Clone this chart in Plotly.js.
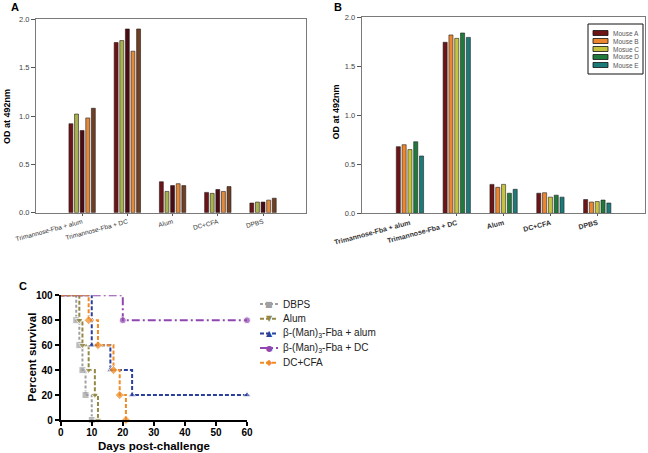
<!DOCTYPE html>
<html><head><meta charset="utf-8">
<script src="https://cdn.plot.ly/plotly-3.0.1.min.js"></script>
<style>html,body{margin:0;padding:0;background:#fff}</style>
</head><body><div id="chart" style="width:648px;height:453px"></div>
<script>
// ---------- DATA ----------
const groups = ['Trimannose-Fba + alum','Trimannose-Fba + DC','Alum','DC+CFA','DPBS'];
// Panel A (5 mice, unnamed)
const a1 = [0.92, 1.76, 0.32, 0.21, 0.10];
const a2 = [1.02, 1.78, 0.22, 0.20, 0.11];
const a3 = [0.85, 1.90, 0.28, 0.24, 0.11];
const a4 = [0.98, 1.67, 0.30, 0.22, 0.13];
const a5 = [1.08, 1.90, 0.28, 0.27, 0.15];
// Panel B
const mouseNames = ['Mouse A','Mouse B','Mosue C','Mouse D','Mouse E'];
const bA = [0.68, 1.745, 0.295, 0.205, 0.14];
const bB = [0.70, 1.82, 0.265, 0.21, 0.115];
const bC = [0.65, 1.785, 0.295, 0.165, 0.12];
const bD = [0.73, 1.84, 0.205, 0.185, 0.135];
const bE = [0.585, 1.795, 0.245, 0.165, 0.105];
// Panel C survival
const survNames = ['DBPS','Alum','β-(Man)<sub>3</sub>-Fba + alum','β-(Man)<sub>3</sub>-Fba + DC','DC+CFA'];
const dbpsDays = [0,5,6,7,8,10];     const dbpsPct = [100,80,60,40,20,0];
const alumDays = [0,6,7,9,11,12];    const alumPct = [100,80,60,40,20,0];
const manAlumDays = [0,10,16,23,60]; const manAlumPct = [100,60,40,20,20];
const manDcDays = [0,20,60];         const manDcPct = [100,80,80];
const dcCfaDays = [0,9,12,17,19,21]; const dcCfaPct = [100,80,60,40,20,0];

// ---------- STYLE ----------
const W = 648, H = 453;
const X = p => p / W, Y = p => 1 - p / H;
const FONT = 'Arial, "Liberation Sans", sans-serif';
const colA = ['#6b1518','#a8b24e','#4a0c14','#e08a3c','#6e4024'];
const colB = ['#6e1416','#ee8630','#c6c43e','#1f7a3c','#1c7a78'];
const survCol = ['#a0a0a0','#938845','#2b3f9c','#9048b0','#f08a24'];
const survSym = ['square','triangle-down','triangle-up','circle','diamond'];
const survDash = ['3px,2px','4px,2px','4px,2px','8px,3px,2px,3px','4px,2px'];
const survGlyph = ['■','▼','▲','●','◆'];

const traces = [];
[a1,a2,a3,a4,a5].forEach((v,i) => traces.push({
  type:'bar', x: groups, y: v, xaxis:'x', yaxis:'y', showlegend:false,
  marker:{color: colA[i], line:{color:'#2a1a1a', width:0.6}}
}));
[bA,bB,bC,bD,bE].forEach((v,i) => traces.push({
  type:'bar', x: groups, y: v, xaxis:'x2', yaxis:'y2', name: mouseNames[i], showlegend:false,
  marker:{color: colB[i], line:{color:'#222', width:0.6}}
}));
const surv = [[dbpsDays,dbpsPct],[alumDays,alumPct],[manAlumDays,manAlumPct],[manDcDays,manDcPct],[dcCfaDays,dcCfaPct]];
surv.forEach((s,i) => traces.push({
  type:'scatter', mode:'lines+markers', x: s[0], y: s[1], xaxis:'x3', yaxis:'y3',
  name: survNames[i], showlegend:false, cliponaxis:false,
  line:{shape:'hv', color: survCol[i], width:2, dash: survDash[i]},
  marker:{symbol: survSym[i], color: survCol[i], size: s[0].map((d,j)=> j===0 ? 0 : 7)}
}));

const barAxisX = (dom, rng, bold, fs) => ({
  domain: dom, range: rng, type:'category', showline:true, mirror:true, linecolor:'#7a7a7a', linewidth:1,
  ticks:'outside', ticklen:2, tickcolor:'#555', tickangle:-15, showgrid:false, zeroline:false,
  tickfont:{family:FONT, size:fs, color:'#333', weight: bold ? 'bold' : 'normal'}
});
const barAxisY = (dom, anchor) => ({
  domain: dom, range:[0,2], anchor: anchor, showline:true, mirror:true, linecolor:'#7a7a7a', linewidth:1,
  ticks:'outside', ticklen:4, tickcolor:'#555', dtick:0.5, tickformat:'.1f', showgrid:false, zeroline:false,
  tickfont:{family:FONT, size:7.5, color:'#444'}
});

const shapes = [], annotations = [];
// Legend B
shapes.push({type:'rect', xref:'paper', yref:'paper', x0:X(588), x1:X(643), y0:Y(24), y1:Y(74), line:{color:'#111', width:1}, fillcolor:'rgba(0,0,0,0)'});
mouseNames.forEach((n,i) => {
  const yc = 33 + i*8;
  shapes.push({type:'rect', xref:'paper', yref:'paper', x0:X(593), x1:X(608), y0:Y(yc+2.5), y1:Y(yc-2.5), line:{color:'#111', width:0.8}, fillcolor: colB[i]});
  annotations.push({xref:'paper', yref:'paper', x:X(611), y:Y(yc), xanchor:'left', yanchor:'middle', showarrow:false, text:n, font:{family:FONT, size:6.5, color:'#555'}});
});
// Legend C
survNames.forEach((n,i) => {
  const yc = 304 + i*14.7;
  shapes.push({type:'line', xref:'paper', yref:'paper', x0:X(260), x1:X(278), y0:Y(yc), y1:Y(yc), line:{color:survCol[i], width:2, dash:survDash[i]}});
  annotations.push({xref:'paper', yref:'paper', x:X(269), y:Y(yc), xanchor:'center', yanchor:'middle', showarrow:false, text:survGlyph[i], font:{family:'DejaVu Sans', size:8, color:survCol[i]}});
  annotations.push({xref:'paper', yref:'paper', x:X(281), y:Y(yc), xanchor:'left', yanchor:'middle', showarrow:false, text:n, font:{family:FONT, size:10, color:'#222'}});
});
// Panel letters & axis titles
const ann = (x,y,text,size,extra) => annotations.push(Object.assign({xref:'paper', yref:'paper', x:X(x), y:Y(y), xanchor:'center', yanchor:'middle', showarrow:false, text:text, font:{family:FONT, size:size, color:'#000', weight:'bold'}}, extra||{}));
ann(15, 7, 'A', 11);
ann(338, 7, 'B', 11);
ann(23, 286, 'C', 11);
ann(7, 117, 'OD at 492nm', 9, {textangle:-90});
ann(335.5, 112, 'OD at 492nm', 9, {textangle:-90});
ann(31.5, 357, 'Percent survival', 11.5, {textangle:-90});
ann(154, 446, 'Days post-challenge', 11.5);

const layout = {
  width:W, height:H, margin:{l:0,r:0,t:0,b:0}, paper_bgcolor:'#fff', plot_bgcolor:'rgba(0,0,0,0)',
  showlegend:false, barmode:'group', bargap:0.38, bargroupgap:0.3,
  font:{family:FONT},
  xaxis: barAxisX([X(36), X(306)], [-1.02, 4.95], false, 6.5),
  yaxis: barAxisY([Y(212.7), Y(19.3)], 'x'),
  xaxis2: Object.assign(barAxisX([X(361.7), X(645)], [-1.03, 5.02], true, 7), {anchor:'y2'}),
  yaxis2: barAxisY([Y(213.3), Y(17.3)], 'x2'),
  xaxis3: {domain:[X(60.7), X(247)], range:[0,60], anchor:'y3', showline:true, linecolor:'#000', linewidth:2,
    ticks:'outside', ticklen:4, tickwidth:2, tickcolor:'#000', dtick:10, showgrid:false, zeroline:false,
    ticklabelstandoff:-2,
    tickfont:{family:FONT, size:10, color:'#000', weight:'bold'}},
  yaxis3: {domain:[Y(420), Y(295.3)], range:[0,100], anchor:'x3', showline:true, linecolor:'#000', linewidth:2,
    ticks:'outside', ticklen:4, tickwidth:2, tickcolor:'#000', dtick:20, showgrid:false, zeroline:false,
    tickfont:{family:FONT, size:10, color:'#000', weight:'bold'}},
  shapes: shapes, annotations: annotations
};
Plotly.newPlot('chart', traces, layout, {staticPlot:true, displayModeBar:false});
</script></body></html>
